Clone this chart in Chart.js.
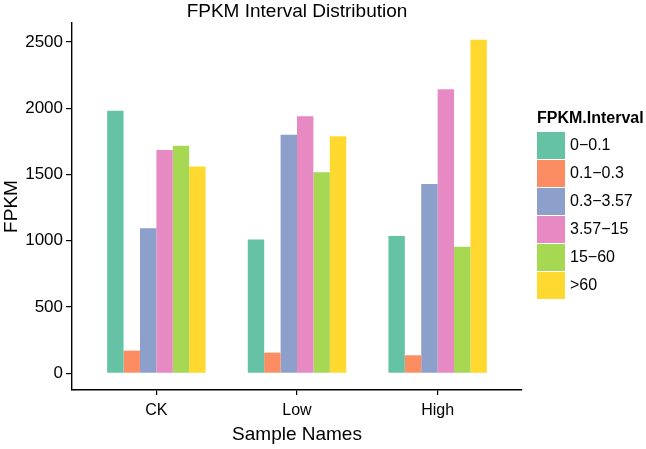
<!DOCTYPE html>
<html>
<head>
<meta charset="utf-8">
<script src="https://cdn.jsdelivr.net/npm/chart.js@4"></script>
<style>
  html, body { margin: 0; padding: 0; background: #fff; }
  #wrap { width: 646px; height: 449px; }
</style>
</head>
<body>
<div id="wrap"><canvas id="fpkmChart" width="646" height="449"></canvas></div>
<script>
// samples on x axis
const samples = ["CK", "Low", "High"];

// FPKM intervals (legend), colours are ggplot Set2
const intervals = ["0\u22120.1", "0.1\u22120.3", "0.3\u22123.57", "3.57\u221215", "15\u221260", ">60"];
const colors = ["#66C2A5", "#FC8D62", "#8DA0CB", "#E78AC3", "#A6D854", "#FFD92F"];

// counts per interval, one entry per sample (CK, Low, High)
const v0_01   = [1981, 1010, 1035];
const v01_03  = [171, 156, 136];
const v03_357 = [1095, 1800, 1428];
const v357_15 = [1684, 1939, 2143];
const v15_60  = [1717, 1516, 954];
const vOver60 = [1561, 1788, 2517];

const yTicks = [0, 500, 1000, 1500, 2000, 2500];

const seriesVals = [v0_01, v01_03, v03_357, v357_15, v15_60, vOver60];
const FONT = "'Liberation Sans', Arial, sans-serif";

// title + legend drawn by hand to sit like the ggplot output
const ggExtras = {
  id: "ggExtras",
  afterDraw(chart) {
    const ctx = chart.ctx;
    const area = chart.chartArea;
    ctx.save();
    ctx.fillStyle = "#000";
    ctx.textBaseline = "middle";

    ctx.font = "19px " + FONT;
    ctx.textAlign = "center";
    ctx.fillText("FPKM Interval Distribution", (area.left + area.right) / 2, 12);

    ctx.textAlign = "left";
    ctx.font = "bold 16px " + FONT;
    ctx.fillText("FPKM.Interval", 537, 119);

    ctx.font = "16px " + FONT;
    chart.data.datasets.forEach((ds, i) => {
      const y = 132 + i * 28;
      ctx.fillStyle = ds.backgroundColor;
      ctx.fillRect(537, y, 28, 27);
      ctx.fillStyle = "#000";
      ctx.fillText(ds.label, 570, y + 14);
    });
    ctx.restore();
  }
};

const ctx = document.getElementById("fpkmChart");
new Chart(ctx, {
  type: "bar",
  data: {
    datasets: intervals.map((lab, i) => ({
      label: lab,
      data: seriesVals[i].map((v, j) => ({ x: j + 1, y: v })),
      backgroundColor: colors[i],
      borderWidth: 0,
      categoryPercentage: 0.7,
      barPercentage: 1.0
    }))
  },
  options: {
    responsive: false,
    animation: false,
    layout: { padding: { left: 0, right: 124, top: 23, bottom: 0 } },
    scales: {
      x: {
        type: "linear",
        offset: false,
        min: 0.4,
        max: 3.6,
        afterBuildTicks: (scale) => { scale.ticks = samples.map((s, i) => ({ value: i + 1 })); },
        afterFit: (scale) => { scale.height = 59; },
        ticks: {
          callback: (val) => samples[val - 1],
          color: "#000",
          font: { family: FONT, size: 16 },
          padding: 6,
          maxRotation: 0
        },
        grid: { display: true, offset: false, drawOnChartArea: false, drawTicks: true, tickLength: 5, color: "#000", lineWidth: 1.2 },
        border: { display: true, color: "#000", width: 1.4 },
        title: {
          display: true,
          text: "Sample Names",
          color: "#000",
          font: { family: FONT, size: 19 },
          padding: { top: 0, bottom: 3 }
        }
      },
      y: {
        min: -126,
        max: 2643,
        afterBuildTicks: (scale) => { scale.ticks = yTicks.map(v => ({ value: v })); },
        afterFit: (scale) => { scale.width = 72; },
        ticks: {
          callback: (val) => String(val),
          color: "#000",
          font: { family: FONT, size: 17 },
          padding: 3
        },
        grid: { display: true, drawOnChartArea: false, drawTicks: true, tickLength: 6, color: "#000", lineWidth: 1.2 },
        border: { display: true, color: "#000", width: 1.4 },
        title: {
          display: true,
          text: "FPKM",
          color: "#000",
          font: { family: FONT, size: 19 },
          padding: { top: 0, bottom: 0 }
        }
      }
    },
    plugins: {
      legend: { display: false },
      tooltip: { enabled: false },
      title: { display: false }
    }
  },
  plugins: [ggExtras]
});
</script>
</body>
</html>
